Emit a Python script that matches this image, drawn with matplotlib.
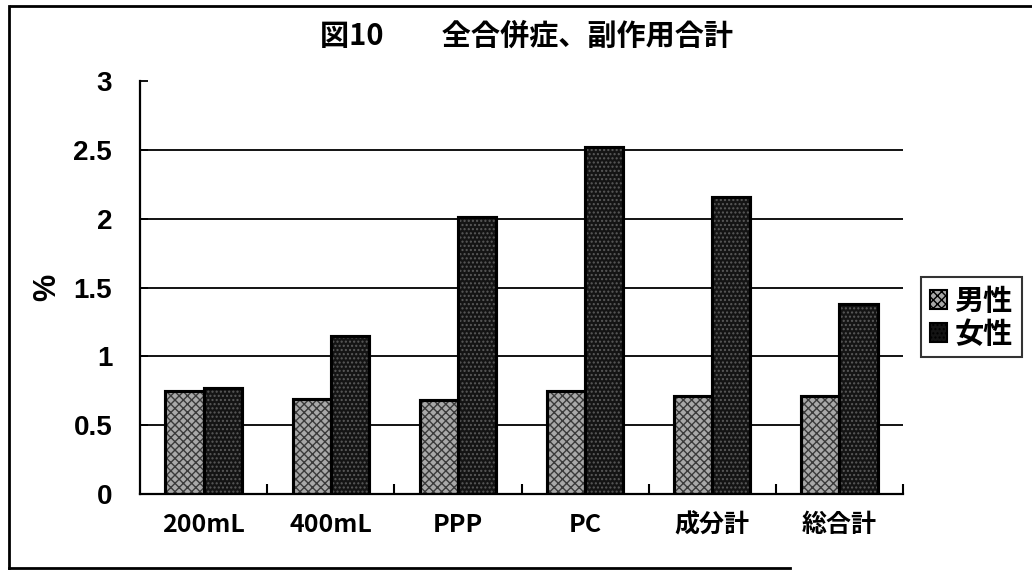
import matplotlib
matplotlib.use("Agg")
import matplotlib.pyplot as plt
from matplotlib.patches import Patch
from matplotlib.lines import Line2D
import numpy as np

plt.rcParams['font.family'] = ['Noto Sans CJK JP', 'DejaVu Sans']
plt.rcParams['hatch.linewidth'] = 1.0

# Data
categories = ["200mL", "400mL", "PPP", "PC", "成分計", "総合計"]
male = [0.75, 0.69, 0.68, 0.75, 0.71, 0.71]
female = [0.77, 1.15, 2.01, 2.52, 2.16, 1.38]
series_names = ["男性", "女性"]
yticks = [0, 0.5, 1, 1.5, 2, 2.5, 3]
ytick_labels = ["0", "0.5", "1", "1.5", "2", "2.5", "3"]
title = "図10　　全合併症、副作用合計"
ylabel = "%"

W, H = 1032, 573
fig = plt.figure(figsize=(W / 100, H / 100), dpi=100)
fig.patch.set_facecolor("white")

ax = fig.add_axes([140 / W, 1 - 494 / H, (903 - 140) / W, (494 - 81) / H])

x = np.arange(len(categories))
bw = 0.30
styles = [
    dict(face="#a8a8a8", hatch="xxxx", hcol="#3a3a3a"),
    dict(face="#141414", hatch="....", hcol="#5a5a5a"),
]
for k, vals in enumerate([male, female]):
    pos = x + (k - 0.5) * bw
    st = styles[k]
    ax.bar(pos, vals, width=bw, color=st["face"], edgecolor="black",
           linewidth=2.2, zorder=3)
    ax.bar(pos, vals, width=bw, color="none", edgecolor=st["hcol"],
           hatch=st["hatch"], linewidth=0, zorder=3.5)
    ax.bar(pos, vals, width=bw, color="none", edgecolor="black",
           linewidth=2.2, zorder=4)

# horizontal grid lines
for v in yticks[1:-1]:
    ax.axhline(v, color="black", linewidth=1.3, zorder=1)

ax.set_xlim(-0.5, len(categories) - 0.5)
ax.set_ylim(0, 3)
for s in ["top", "right"]:
    ax.spines[s].set_visible(False)
for s in ["left", "bottom"]:
    ax.spines[s].set_linewidth(1.6)
    ax.spines[s].set_zorder(5)

ax.set_yticks(yticks)
ax.set_yticklabels(ytick_labels, fontfamily="Liberation Sans",
                   fontweight="bold", fontsize=20)
ax.tick_params(axis="y", direction="in", length=6, width=1.3, pad=20)

ax.set_xticks(x)
ax.set_xticklabels(categories, fontweight="bold", fontsize=18)
ax.tick_params(axis="x", which="major", length=0, pad=14)
ax.set_xticks(np.arange(len(categories)) + 0.5, minor=True)
ax.tick_params(axis="x", which="minor", direction="in", length=7, width=1.5)

ax.set_ylabel(ylabel, fontfamily="Liberation Sans", fontweight="bold",
              fontsize=22)
ax.yaxis.set_label_coords((62 - 140) / (903 - 140), (494 - 287) / (494 - 81))

fig.text(526 / W, 1 - 36 / H, title, ha="center", va="center",
         fontsize=21, fontweight="bold")

handles = [Patch(facecolor=styles[k]["face"], edgecolor="black",
                 linewidth=1.5, hatch=styles[k]["hatch"])
           for k in range(2)]
leg = fig.legend(handles, series_names, loc="upper left",
                 bbox_to_anchor=(921 / W, 1 - 277 / H),
                 frameon=True, fancybox=False, edgecolor="black",
                 prop=dict(size=21, weight="bold"),
                 handlelength=0.6, handleheight=0.6, handletextpad=0.25,
                 labelspacing=0.1, borderpad=0.3, borderaxespad=0)
leg.get_frame().set_linewidth(1.5)

# outer frame of the chart sheet
fig.add_artist(Line2D([11 / W, 1.0], [1 - 6 / H, 1 - 6 / H],
                      transform=fig.transFigure, color="black", lw=2))
fig.add_artist(Line2D([9 / W, 9 / W], [1 - 6 / H, 1 - 568 / H],
                      transform=fig.transFigure, color="black", lw=2))
fig.add_artist(Line2D([9 / W, 790 / W], [1 - 568 / H, 1 - 568 / H],
                      transform=fig.transFigure, color="black", lw=2))

fig.savefig("out.png", dpi=100)
